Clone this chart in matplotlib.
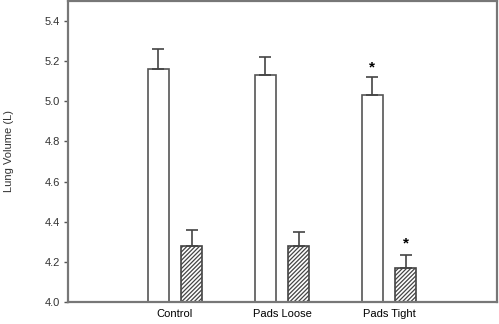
import numpy as np
import matplotlib.pyplot as plt

plt.rcParams['font.family'] = ['Liberation Sans', 'DejaVu Sans']

groups = ["Control", "Pads Loose", "Pads Tight"]
open_vals = [5.16, 5.13, 5.03]
open_err = [0.10, 0.09, 0.09]
hatch_vals = [4.28, 4.28, 4.17]
hatch_err = [0.08, 0.07, 0.065]
open_sig = [False, False, True]
hatch_sig = [False, False, True]

x = np.arange(len(groups))
w = 0.19
off = 0.155

fig = plt.figure(figsize=(4.99, 3.24), dpi=100)
ax = fig.add_axes([68 / 499, 22 / 324, 429 / 499, 301 / 324])

base = 4.0
ax.bar(x - off, np.array(open_vals) - base, w, bottom=base, color="white",
       edgecolor="#555555", linewidth=1.2, zorder=2)
ax.errorbar(x - off, open_vals, yerr=[np.zeros(3), open_err], fmt="none",
            ecolor="#444444", elinewidth=1.2, capsize=4, capthick=1.2, zorder=3)

plt.rcParams['hatch.color'] = "#222222"
plt.rcParams['hatch.linewidth'] = 0.9
ax.bar(x + off, np.array(hatch_vals) - base, w, bottom=base, color="white",
       edgecolor="#444444", hatch="////////", linewidth=1.2, zorder=2)
ax.errorbar(x + off, hatch_vals, yerr=[np.zeros(3), hatch_err], fmt="none",
            ecolor="#444444", elinewidth=1.2, capsize=4, capthick=1.2, zorder=3)

for i in range(len(groups)):
    if open_sig[i]:
        ax.text(x[i] - off, open_vals[i] + open_err[i] + 0.05, "*", ha="center",
                va="center", fontsize=11, fontweight="bold")
    if hatch_sig[i]:
        ax.text(x[i] + off, hatch_vals[i] + hatch_err[i] + 0.055, "*", ha="center",
                va="center", fontsize=11, fontweight="bold")

ax.set_xlim(-1, 3.01)
ax.set_ylim(4.0, 5.5)
ax.set_yticks([4.0, 4.2, 4.4, 4.6, 4.8, 5.0, 5.2, 5.4])
ax.set_yticklabels(["4.0", "4.2", "4.4", "4.6", "4.8", "5.0", "5.2", "5.4"])
ax.set_xticks(x)
ax.set_xticklabels(groups)
ax.tick_params(axis="x", length=0, labelsize=8, pad=5)
ax.tick_params(axis="y", length=3, width=1, color="#555555", labelsize=8,
               pad=3, labelcolor="#333333")
for s in ax.spines.values():
    s.set_color("#777777")
    s.set_linewidth(1.6)
ax.set_ylabel("Lung Volume (L)", fontsize=8, color="#333333", labelpad=22)

fig.savefig("out.png", dpi=100)
